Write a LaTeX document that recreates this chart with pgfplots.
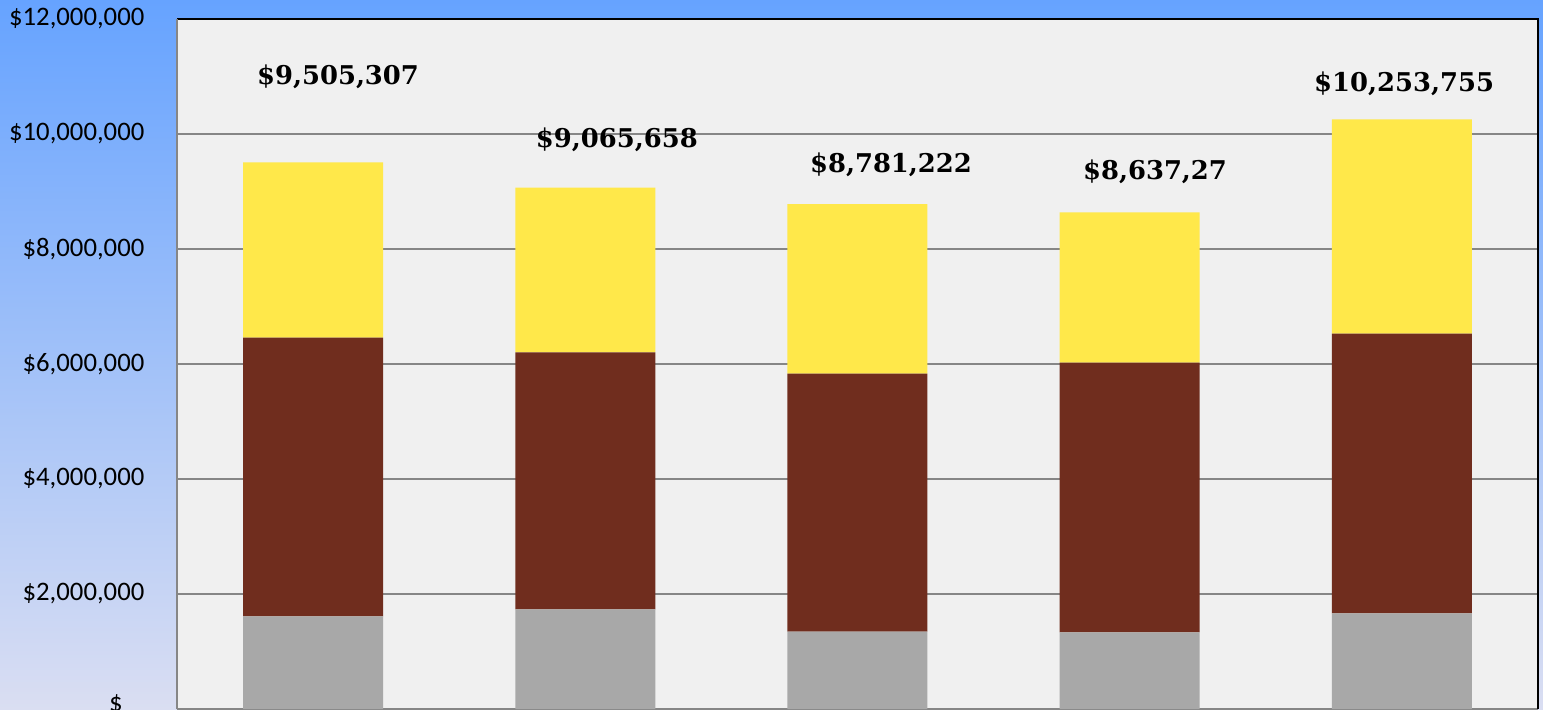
\documentclass[border=0pt]{standalone}
\usepackage{fontspec}
\usepackage{pgfplots}
\pgfplotsset{compat=1.18}
\newfontfamily\carlito{Carlito}
\newfontfamily\dvserif{DejaVu Serif}
\definecolor{bgtop}{RGB}{102,163,255}
\definecolor{bgmid}{RGB}{128,191,255}
\definecolor{bgbot}{RGB}{218,222,242}
\definecolor{plotbg}{RGB}{240,240,240}
\definecolor{gridc}{RGB}{134,134,134}
\definecolor{bargrey}{RGB}{168,168,168}
\definecolor{barbrown}{RGB}{112,45,30}
\definecolor{baryellow}{RGB}{255,232,74}
\tikzset{vlab/.style={font=\dvserif\bfseries\fontsize{7.35}{8}\selectfont, inner sep=0pt}}
\begin{document}
\begin{tikzpicture}
\useasboundingbox (0,0) rectangle (15.43,7.09);
\shade[top color=bgtop, middle color=bgmid, bottom color=bgbot] (0,0) rectangle (15.43,7.09);
\begin{axis}[
  at={(1.77cm,0cm)}, anchor=south west,
  scale only axis, width=13.61cm, height=6.90cm,
  xmin=-0.5, xmax=4.5, ymin=0, ymax=12000000,
  ybar stacked, bar width=1.40cm,
  xtick=\empty,
  ytick={0,2000000,4000000,6000000,8000000,10000000,12000000},
  yticklabels={{\raisebox{0.12em}{\$}\hspace{0.5em}\raisebox{-0.35em}{-}\hspace{0.5em}}, {\$2,000,000}, {\$4,000,000}, {\$6,000,000}, {\$8,000,000}, {\$10,000,000}, {\$12,000,000}},
  scaled y ticks=false,
  ymajorgrids, grid style={color=gridc, line width=0.45pt},
  major tick length=0pt,
  axis line style={draw=none},
  axis background/.style={fill=plotbg},
  yticklabel style={font=\carlito\fontsize{7.6}{9}\selectfont, inner sep=0pt, anchor=east, xshift=-0.32cm},
  clip=false,
]
\addplot[fill=bargrey, draw=none] coordinates {(0,1612000) (1,1734000) (2,1344000) (3,1334000) (4,1664000)};
\addplot[fill=barbrown, draw=none] coordinates {(0,4845000) (1,4469000) (2,4487000) (3,4689000) (4,4863000)};
\addplot[fill=baryellow, draw=none] coordinates {(0,3048307) (1,2862658) (2,2950222) (3,2614270) (4,3726755)};
\node[vlab] at (axis cs:0.0915,10990000) {\$9,505,307};
\node[vlab] at (axis cs:1.116,9896000) {\$9,065,658};
\node[vlab] at (axis cs:2.123,9461000) {\$8,781,222};
\node[vlab] at (axis cs:3.093,9339000) {\$8,637,27};
\node[vlab] at (axis cs:4.008,10870000) {\$10,253,755};
\draw[gridc, line width=0.6pt] (rel axis cs:0,0) -- (rel axis cs:0,1);
\draw[black, line width=0.6pt] (rel axis cs:0,1) -- (rel axis cs:1,1) -- (rel axis cs:1,0);
\end{axis}
\end{tikzpicture}
\end{document}
